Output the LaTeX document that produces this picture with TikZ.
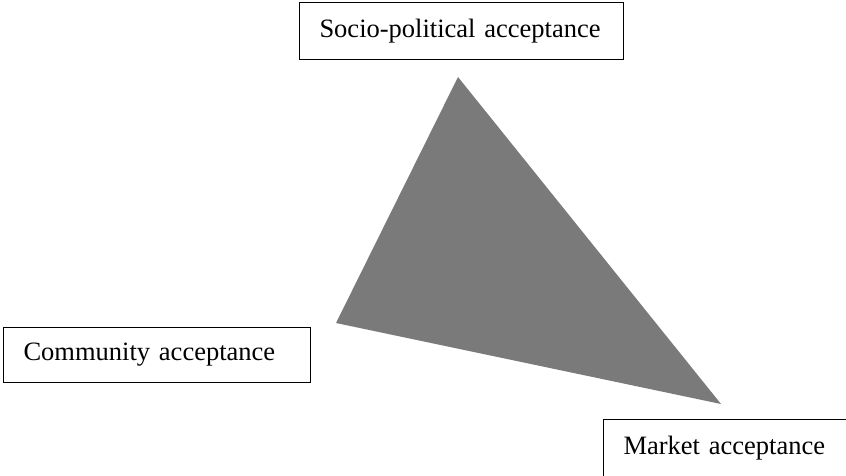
\documentclass[tikz,border=0pt]{standalone}
\usepackage{fontspec}
\setmainfont{Liberation Serif}
\usepackage{xcolor}
\usepackage{tikz}
\definecolor{wedgegray}{RGB}{122,122,122}
\tikzstyle{acceptbox} = [rectangle, draw=black, line width=1pt, anchor=north west,
                         inner xsep=20pt, inner ysep=0pt, align=left,
                         font=\fontsize{26.5}{32}\selectfont]

\begin{document}
\begin{tikzpicture}[x=1pt, y=-1pt]
  \useasboundingbox (0,0) rectangle (846,475);
  \node (socio) [acceptbox, text width=284pt, minimum height=57pt] at (299,2) {Socio-political acceptance};
  \node (community) [acceptbox, text width=267pt, minimum height=55pt] at (3,327) {Community acceptance};
  \node (market) [acceptbox, text width=260pt, minimum height=58pt] at (603,419) {Market acceptance};

  \coordinate (apex) at (458,77);
  \coordinate (leftcorner) at (336,323);
  \coordinate (rightcorner) at (721,404);
  \fill [wedgegray] (apex) -- (leftcorner) -- (rightcorner) -- cycle;
\end{tikzpicture}
\end{document}
